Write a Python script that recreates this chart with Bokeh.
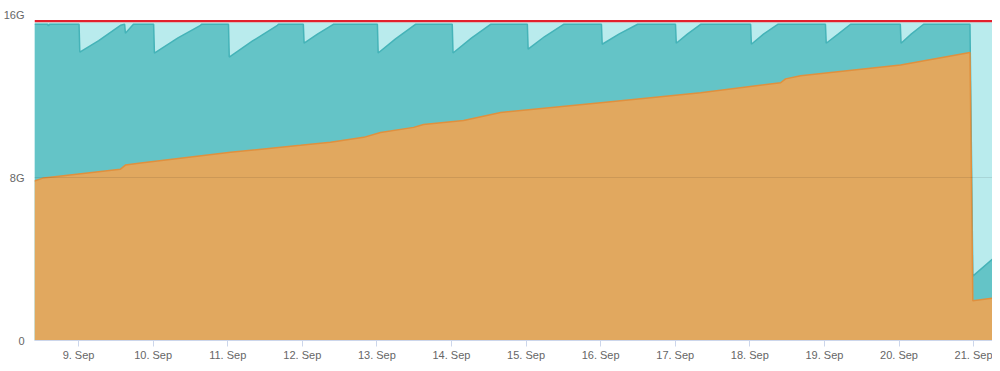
import pandas as pd
from bokeh.plotting import figure
from bokeh.models import FixedTicker, DaysTicker, CustomJSTickFormatter, Range1d
from bokeh.embed import file_html
from bokeh.resources import INLINE

# ---- data (GiB) ----
cache_times = [
    "2019-09-08 09:50", "2019-09-08 14:00", "2019-09-08 14:20", "2019-09-08 14:40",
    "2019-09-09 00:10", "2019-09-09 00:25", "2019-09-09 06:30", "2019-09-09 13:30",
    "2019-09-09 14:50", "2019-09-09 15:05", "2019-09-09 17:40",
    "2019-09-10 00:10", "2019-09-10 00:25", "2019-09-10 08:00", "2019-09-10 15:15", "2019-09-10 15:35",
    "2019-09-11 00:15", "2019-09-11 00:30", "2019-09-11 08:00", "2019-09-11 16:00", "2019-09-11 16:20",
    "2019-09-12 00:20", "2019-09-12 00:35", "2019-09-12 05:00", "2019-09-12 10:00",
    "2019-09-13 00:10", "2019-09-13 00:25", "2019-09-13 06:00", "2019-09-13 12:25",
    "2019-09-14 00:15", "2019-09-14 00:30", "2019-09-14 06:30", "2019-09-14 12:35",
    "2019-09-15 00:25", "2019-09-15 00:40", "2019-09-15 06:00", "2019-09-15 12:05",
    "2019-09-16 00:15", "2019-09-16 00:30", "2019-09-16 06:00", "2019-09-16 11:55",
    "2019-09-17 00:05", "2019-09-17 00:20", "2019-09-17 04:00", "2019-09-17 08:10",
    "2019-09-18 00:15", "2019-09-18 00:30", "2019-09-18 04:30", "2019-09-18 09:00",
    "2019-09-19 00:20", "2019-09-19 00:35", "2019-09-19 04:30", "2019-09-19 08:25",
    "2019-09-20 00:25", "2019-09-20 00:40", "2019-09-20 04:00", "2019-09-20 07:55",
    "2019-09-20 22:50", "2019-09-20 23:45", "2019-09-21 07:05",
]
cache_values = [
    15.52, 15.52, 15.45, 15.52,
    15.52, 14.15, 14.72, 15.47,
    15.52, 15.08, 15.52,
    15.52, 14.11, 14.85, 15.47, 15.52,
    15.52, 13.91, 14.70, 15.47, 15.52,
    15.52, 14.59, 15.05, 15.52,
    15.52, 14.11, 14.80, 15.52,
    15.52, 14.11, 14.85, 15.52,
    15.52, 14.30, 14.92, 15.52,
    15.52, 14.54, 15.05, 15.52,
    15.52, 14.59, 15.05, 15.52,
    15.52, 14.54, 15.05, 15.52,
    15.52, 14.59, 15.05, 15.52,
    15.52, 14.59, 15.05, 15.52,
    15.52, 3.16, 4.13,
]

used_times = [
    "2019-09-08 09:50", "2019-09-08 12:45", "2019-09-09 13:30", "2019-09-09 15:05",
    "2019-09-09 20:00", "2019-09-11 00:55", "2019-09-11 23:25", "2019-09-12 09:05",
    "2019-09-12 19:45", "2019-09-13 01:10", "2019-09-13 11:50", "2019-09-13 15:00",
    "2019-09-14 03:55", "2019-09-14 15:50", "2019-09-16 00:00", "2019-09-17 08:10",
    "2019-09-18 09:55", "2019-09-18 11:30", "2019-09-18 16:20", "2019-09-20 00:30",
    "2019-09-20 22:50", "2019-09-20 23:45", "2019-09-21 07:05",
]
used_values = [
    7.83, 7.98, 8.41, 8.61,
    8.71, 9.24, 9.58, 9.73,
    9.97, 10.21, 10.46, 10.60,
    10.80, 11.19, 11.67, 12.16,
    12.65, 12.84, 12.99, 13.52,
    14.13, 1.95, 2.09,
]

total_times = ["2019-09-08 09:50", "2019-09-21 07:05"]
total_values = [15.62, 15.62]
limit_value = 15.67

x_start = "2019-09-08 09:50"
x_end = "2019-09-21 06:05"

y_ticks = [0, 8, 16]
y_tick_labels = ["0", "8G", "16G"]

# ---- figure ----
ct = pd.to_datetime(cache_times)
ut = pd.to_datetime(used_times)
tt = pd.to_datetime(total_times)

p = figure(width=992, height=363, x_axis_type="datetime",
           output_backend="svg", toolbar_location=None,
           x_range=Range1d(pd.Timestamp(x_start), pd.Timestamp(x_end)),
           y_range=Range1d(0, 16),
           min_border_left=34, min_border_right=0, min_border_top=14, min_border_bottom=0)
p.outline_line_color = None
p.background_fill_color = "white"
p.border_fill_color = "white"

p.varea(x=tt, y1=0, y2=total_values, fill_color="#B9EBED")
p.varea(x=ct, y1=0, y2=cache_values, fill_color="#64C4C7")
p.line(x=ct, y=cache_values, line_color="#45B3B8", line_width=1.5)
p.varea(x=ut, y1=0, y2=used_values, fill_color="#E1A85F")
p.line(x=ut, y=used_values, line_color="#E0903E", line_width=1.5)
p.line(x=tt, y=[limit_value, limit_value], line_color="#E3202D", line_width=2.2)

# grid
p.xgrid.grid_line_color = None
p.ygrid.ticker = FixedTicker(ticks=y_ticks)
p.ygrid.grid_line_color = "black"
p.ygrid.grid_line_alpha = 0.09
p.ygrid.level = "overlay"

# y axis
p.yaxis.ticker = FixedTicker(ticks=y_ticks)
p.yaxis.major_label_overrides = dict(zip(y_ticks, y_tick_labels))
p.yaxis.axis_line_color = None
p.yaxis.major_tick_line_color = None
p.yaxis.minor_tick_line_color = None
p.yaxis.major_label_standoff = 4
p.yaxis.major_label_text_font = "Liberation Sans"
p.yaxis.major_label_text_font_size = "11px"
p.yaxis.major_label_text_color = "#666666"

# x axis
p.xaxis.ticker = DaysTicker(days=list(range(1, 32)))
p.xaxis.formatter = CustomJSTickFormatter(code="""
const d = new Date(tick);
const m = ['Jan','Feb','Mar','Apr','May','Jun','Jul','Aug','Sep','Oct','Nov','Dec'];
return d.getUTCDate() + '. ' + m[d.getUTCMonth()];
""")
p.xaxis.axis_line_color = "#CCD6EB"
p.xaxis.major_tick_line_color = "#CCD6EB"
p.xaxis.major_tick_in = 0
p.xaxis.major_tick_out = 6
p.xaxis.minor_tick_line_color = None
p.xaxis.major_label_standoff = 2
p.xaxis.major_label_text_font = "Liberation Sans"
p.xaxis.major_label_text_font_size = "11px"
p.xaxis.major_label_text_color = "#666666"

open("out.html", "w").write(file_html(p, INLINE))
